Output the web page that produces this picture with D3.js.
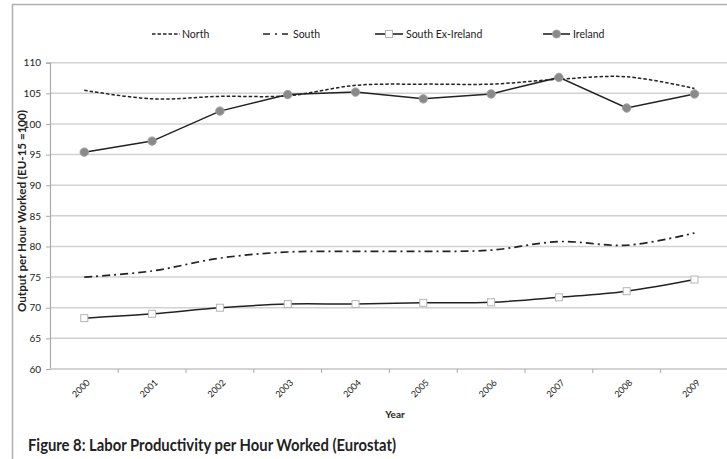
<!DOCTYPE html>
<html>
<head>
<meta charset="utf-8">
<script src="https://cdn.jsdelivr.net/npm/d3@7"></script>
<style>
  html, body { margin: 0; padding: 0; background: #fff; }
  svg { display: block; }
  text { font-family: Lato, "Open Sans", sans-serif; fill: #222; }
</style>
</head>
<body>
<svg id="chart" width="727" height="459"></svg>
<script>
const years = ["2000","2001","2002","2003","2004","2005","2006","2007","2008","2009"];
const north = [105.5, 104.1, 104.5, 104.6, 106.3, 106.5, 106.5, 107.3, 107.7, 105.8];
const south = [75.0, 76.0, 78.1, 79.1, 79.2, 79.2, 79.4, 80.8, 80.2, 82.2];
const southExIreland = [68.3, 69.0, 70.0, 70.6, 70.6, 70.8, 70.9, 71.7, 72.7, 74.6];
const ireland = [95.4, 97.2, 102.1, 104.8, 105.2, 104.1, 104.9, 107.6, 102.6, 104.9];
const yTicks = [60, 65, 70, 75, 80, 85, 90, 95, 100, 105, 110];
const seriesNames = ["North", "South", "South Ex-Ireland", "Ireland"];

const svg = d3.select("#chart");

// frame
svg.append("path")
  .attr("d", "M12.5,459 L12.5,4.5 L727,4.5")
  .attr("fill", "none").attr("stroke", "#b0b0b0").attr("stroke-width", 1.5);

const x = d3.scalePoint().domain(years).range([50.4, 728.4]).padding(0.5);
const y = d3.scaleLinear().domain([60, 110]).range([369, 62.7]);
const step = x.step();

// gridlines
svg.append("g").selectAll("line").data(yTicks.filter(d => d > 60)).join("line")
  .attr("x1", 50).attr("x2", 727)
  .attr("y1", d => y(d)).attr("y2", d => y(d))
  .attr("stroke", "#d2d2d2").attr("stroke-width", 1.5);

// y axis
const yAxis = d3.axisLeft(y).tickValues(yTicks).tickSize(4).tickPadding(5).tickFormat(d3.format("d"));
const gy = svg.append("g").attr("transform", "translate(50,0)").call(yAxis);
gy.select(".domain").attr("stroke", "#aaa").attr("stroke-width", 1.2);
gy.selectAll(".tick line").attr("stroke", "#aaa");
gy.selectAll(".tick text").attr("font-size", 10).attr("fill", "#444")
  .style("font-family", "Lato, sans-serif");

// x axis
const gx = svg.append("g").attr("transform", "translate(0,369)");
gx.append("line").attr("x1", 50).attr("x2", 727).attr("y1", 0).attr("y2", 0)
  .attr("stroke", "#c4c4c4").attr("stroke-width", 1.5);
gx.selectAll("line.tk").data(years).join("line").attr("class", "tk")
  .attr("x1", d => x(d) + step / 2).attr("x2", d => x(d) + step / 2)
  .attr("y1", 0).attr("y2", 4).attr("stroke", "#aaa");
gx.selectAll("text").data(years).join("text")
  .attr("transform", d => `translate(${x(d) + 4},${12}) rotate(-45)`)
  .attr("text-anchor", "end").attr("dy", "0.35em")
  .attr("font-size", 9).attr("fill", "#444")
  .text(d => d);

// axis titles
svg.append("text").attr("x", 395).attr("y", 418).attr("text-anchor", "middle")
  .attr("font-size", 10).attr("font-weight", "bold").text("Year");
svg.append("text").attr("transform", "translate(26,211) rotate(-90)")
  .attr("text-anchor", "middle").attr("font-size", 11.5).attr("font-weight", "bold")
  .attr("textLength", 202).attr("lengthAdjust", "spacingAndGlyphs")
  .text("Output per Hour Worked (EU-15 =100)");

// title
svg.append("text").attr("x", 28).attr("y", 451)
  .attr("font-size", 17).attr("font-weight", "bold").attr("fill", "#111")
  .attr("textLength", 368).attr("lengthAdjust", "spacingAndGlyphs")
  .text("Figure 8: Labor Productivity per Hour Worked (Eurostat)");

// lines
const smooth = d3.line().x((d, i) => x(years[i])).y(d => y(d)).curve(d3.curveCatmullRom.alpha(0.5));
const straight = d3.line().x((d, i) => x(years[i])).y(d => y(d));

svg.append("path").datum(north).attr("d", smooth)
  .attr("fill", "none").attr("stroke", "#222").attr("stroke-width", 1.5)
  .attr("stroke-dasharray", "3.5,2");
svg.append("path").datum(south).attr("d", smooth)
  .attr("fill", "none").attr("stroke", "#222").attr("stroke-width", 1.7)
  .attr("stroke-dasharray", "8,4,2,4");
svg.append("path").datum(southExIreland).attr("d", smooth)
  .attr("fill", "none").attr("stroke", "#222").attr("stroke-width", 1.5);
svg.append("path").datum(ireland).attr("d", straight)
  .attr("fill", "none").attr("stroke", "#222").attr("stroke-width", 1.5);

// markers
svg.append("g").selectAll("rect").data(southExIreland).join("rect")
  .attr("x", (d, i) => x(years[i]) - 3.5).attr("y", d => y(d) - 3.5)
  .attr("width", 7).attr("height", 7)
  .attr("fill", "#fff").attr("stroke", "#b5b5b5").attr("stroke-width", 1);
svg.append("g").selectAll("circle").data(ireland).join("circle")
  .attr("cx", (d, i) => x(years[i])).attr("cy", d => y(d)).attr("r", 4.2)
  .attr("fill", "#8a8a8a").attr("stroke", "#a0a0a0").attr("stroke-width", 1);

// legend
const legendItems = [
  {name: seriesNames[0], x0: 152, x1: 180, tx: 182, dash: "3.5,2", marker: null},
  {name: seriesNames[1], x0: 263, x1: 288, tx: 293, dash: "7,5,2,5", marker: null},
  {name: seriesNames[2], x0: 375, x1: 403, tx: 406, dash: null, marker: "square"},
  {name: seriesNames[3], x0: 543, x1: 570, tx: 573, dash: null, marker: "circle"}
];
const ly = 34;
const lg = svg.append("g");
legendItems.forEach(it => {
  lg.append("line").attr("x1", it.x0).attr("x2", it.x1).attr("y1", ly).attr("y2", ly)
    .attr("stroke", "#222").attr("stroke-width", 1.6)
    .attr("stroke-dasharray", it.dash);
  const mx = (it.x0 + it.x1) / 2;
  if (it.marker === "square") {
    lg.append("rect").attr("x", mx - 3.5).attr("y", ly - 3.5).attr("width", 7).attr("height", 7)
      .attr("fill", "#fff").attr("stroke", "#b5b5b5");
  } else if (it.marker === "circle") {
    lg.append("circle").attr("cx", mx).attr("cy", ly).attr("r", 4)
      .attr("fill", "#8a8a8a").attr("stroke", "#a0a0a0");
  }
  lg.append("text").attr("x", it.tx).attr("y", ly).attr("dy", "0.35em")
    .attr("font-size", 10.5).attr("fill", "#222").text(it.name);
});
</script>
</body>
</html>
